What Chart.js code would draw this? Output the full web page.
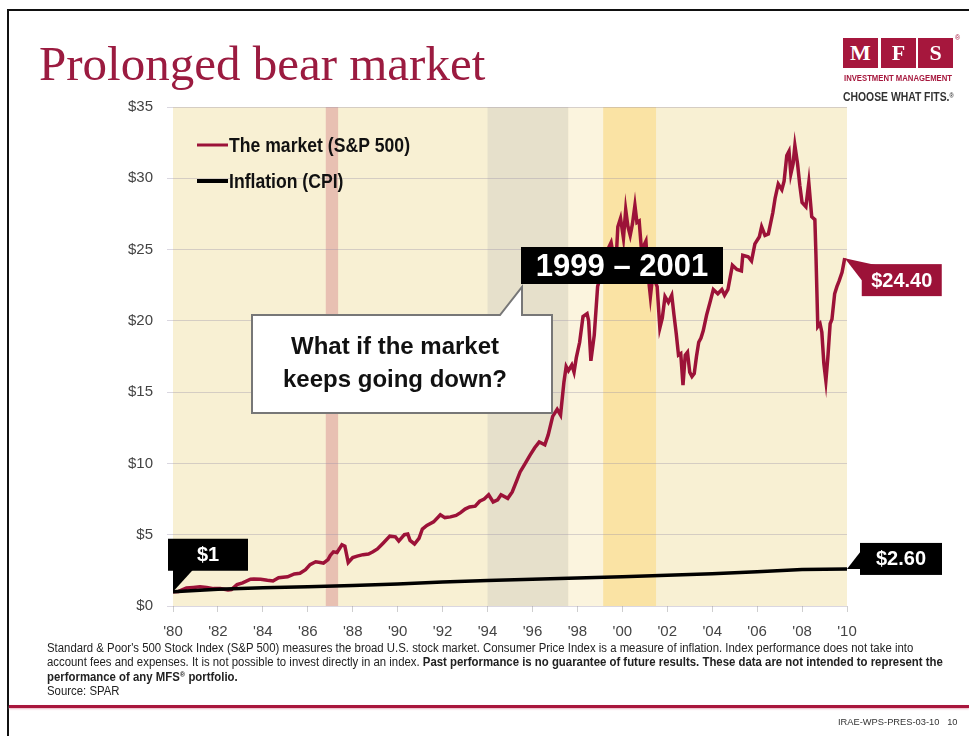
<!DOCTYPE html>
<html>
<head>
<meta charset="utf-8">
<script src="https://cdn.jsdelivr.net/npm/chart.js"></script>
<style>
body { margin: 0; background: #fff; }
#page { position: relative; width: 969px; height: 736px; overflow: hidden; font-family: "Liberation Sans", Arial, sans-serif; }
#chart { position: absolute; left: 0; top: 0; }
.frameTop { position: absolute; left: 7px; top: 9px; width: 962px; height: 2px; background: #111; }
.frameLeft { position: absolute; left: 7px; top: 9px; width: 2px; height: 727px; background: #111; }
.footLine { position: absolute; left: 9px; top: 705px; width: 960px; height: 3px; background: #a8163d; box-shadow: 0 1px 2px #eab0bd; }
#title { position: absolute; left: 39px; top: 39px; font-family: "Liberation Serif", serif; font-size: 49px; line-height: 1; color: #9b1b40; white-space: nowrap; }
.logoBox { position: absolute; top: 38px; width: 35px; height: 30px; background: #a6173d; color: #fff; font-family: "Liberation Serif", serif; font-weight: bold; font-size: 22px; line-height: 30px; text-align: center; }
#reg { position: absolute; left: 955px; top: 34px; font-size: 7px; color: #a6173d; }
.fit { position: absolute; white-space: nowrap; transform-origin: 0 0; }
sup { line-height: 0; vertical-align: 0.45em; }
#invest { left: 844px; top: 73px; font-size: 9px; font-weight: bold; color: #a6173d; }
#choose { left: 843px; top: 89px; font-size: 13px; font-weight: bold; color: #333; }
#foot { left: 47px; top: 641px; font-size: 12.5px; line-height: 14.3px; color: #222; }
#code { left: 838px; top: 717px; font-size: 9px; color: #333; }
</style>
</head>
<body>
<div id="page">
  <canvas id="chart" width="969" height="736"></canvas>
  <div class="frameTop"></div>
  <div class="frameLeft"></div>
  <div id="title">Prolonged bear market</div>
  <div class="logoBox" style="left:843px">M</div>
  <div class="logoBox" style="left:881px">F</div>
  <div class="logoBox" style="left:918px">S</div>
  <div id="reg">®</div>
  <div id="invest" class="fit" data-w="108">INVESTMENT MANAGEMENT</div>
  <div id="choose" class="fit" data-w="111">CHOOSE WHAT FITS.<sup style="font-size:7px">®</sup></div>
  <div id="foot" class="fit" data-w="866">
    <span id="footFirst">Standard &amp; Poor's 500 Stock Index (S&amp;P 500) measures the broad U.S. stock market. Consumer Price Index is a measure of inflation. Index performance does not take into</span><br>
    account fees and expenses. It is not possible to invest directly in an index. <b>Past performance is no guarantee of future results. These data are not intended to represent the</b><br>
    <b>performance of any MFS<sup style="font-size:8px">®</sup> portfolio.</b><br>
    Source: SPAR
  </div>
  <div class="footLine"></div>
  <div id="code" class="fit" data-w="120">IRAE-WPS-PRES-03-10&nbsp;&nbsp;&nbsp;10</div>
</div>
<script>
// growth of $1 invested in the S&P 500
marketYears = [1980.0, 1980.25, 1980.6, 1980.9, 1981.2, 1981.5, 1981.8, 1982.1, 1982.45, 1982.6, 1982.85,
  1983.1, 1983.45, 1983.6, 1983.9, 1984.2, 1984.45, 1984.7, 1985.1, 1985.4, 1985.65, 1985.9,
  1986.1, 1986.35, 1986.55, 1986.7, 1986.9, 1987.0, 1987.14, 1987.3, 1987.52, 1987.65, 1987.8,
  1988.0, 1988.2, 1988.46, 1988.7, 1988.9, 1989.1, 1989.35, 1989.65, 1989.9, 1990.05, 1990.3,
  1990.45, 1990.55, 1990.75, 1990.95, 1991.1, 1991.3, 1991.6, 1991.9, 1992.1, 1992.35, 1992.6,
  1992.8, 1993.0, 1993.2, 1993.45, 1993.65, 1993.85, 1994.05, 1994.25, 1994.45, 1994.6, 1994.9,
  1995.1, 1995.3, 1995.45, 1995.6, 1995.9, 1996.1, 1996.3, 1996.55, 1996.7, 1996.9, 1997.1,
  1997.25, 1997.4, 1997.5, 1997.6, 1997.75, 1997.85, 1997.95, 1998.1, 1998.25, 1998.43, 1998.5,
  1998.6, 1998.75, 1998.9, 1999.05, 1999.2, 1999.35, 1999.5, 1999.6, 1999.72, 1999.8, 1999.92,
  2000.05, 2000.15, 2000.25, 2000.35, 2000.45, 2000.56, 2000.65, 2000.75, 2000.85, 2000.93,
  2001.05, 2001.15, 2001.25, 2001.36, 2001.45, 2001.55, 2001.67, 2001.78, 2001.9, 2002.05,
  2002.2, 2002.3, 2002.4, 2002.5, 2002.6, 2002.7, 2002.8, 2002.9, 2003.0, 2003.1, 2003.2,
  2003.3, 2003.4, 2003.5, 2003.6, 2003.75, 2003.92, 2004.05, 2004.25, 2004.43, 2004.55, 2004.7,
  2004.9, 2005.1, 2005.3, 2005.36, 2005.6, 2005.75, 2005.9, 2006.1, 2006.2, 2006.35, 2006.5,
  2006.7, 2006.8, 2006.94, 2007.1, 2007.2, 2007.32, 2007.42, 2007.5, 2007.6, 2007.68, 2007.8,
  2007.9, 2008.0, 2008.17, 2008.3, 2008.43, 2008.57, 2008.62, 2008.7, 2008.8, 2008.88, 2008.97,
  2009.06, 2009.15, 2009.25, 2009.33, 2009.45, 2009.55, 2009.65, 2009.78, 2009.9]
market = [1.00, 1.02, 1.26, 1.30, 1.35, 1.30, 1.22, 1.22, 1.12, 1.15, 1.50,
  1.62, 1.88, 1.90, 1.88, 1.80, 1.75, 1.98, 2.05, 2.25, 2.30, 2.55,
  2.90, 3.10, 3.05, 3.00, 3.25, 3.55, 3.80, 3.75, 4.30, 4.20, 3.05,
  3.40, 3.50, 3.60, 3.65, 3.80, 4.00, 4.40, 4.90, 4.85, 4.55, 5.00,
  5.05, 4.60, 4.35, 4.75, 5.40, 5.65, 5.90, 6.40, 6.20, 6.25, 6.35,
  6.55, 6.80, 6.95, 7.00, 7.35, 7.50, 7.80, 7.30, 7.45, 7.80, 7.55,
  8.00, 8.80, 9.40, 9.80, 10.60, 11.10, 11.50, 11.30, 12.00, 13.30, 13.80,
  13.40, 15.70, 16.80, 16.50, 16.90, 16.40, 17.40, 18.50, 20.30, 20.50, 20.00,
  17.20, 19.00, 22.40, 23.30, 23.90, 25.00, 25.50, 24.60, 24.20, 26.60, 27.20,
  25.80, 27.80, 26.60, 26.00, 26.80, 28.10, 26.90, 27.00, 25.00, 25.20,
  25.60, 23.20, 21.70, 23.30, 22.80, 22.40, 19.50, 20.20, 21.70, 21.30,
  21.80, 20.40, 19.10, 17.60, 17.70, 15.50, 17.60, 17.80, 16.40, 16.10, 16.30,
  17.50, 18.50, 18.80, 19.30, 20.40, 21.40, 22.20, 21.90, 22.20, 21.80, 22.20,
  23.90, 23.60, 23.50, 24.60, 24.50, 24.20, 25.40, 25.90, 26.60, 26.00, 26.10,
  27.60, 28.60, 29.60, 29.20, 29.80, 31.60, 31.90, 30.30, 31.00, 32.30, 31.00,
  29.50, 28.30, 28.00, 29.70, 27.30, 27.10, 24.50, 19.60, 19.80, 19.20, 17.00,
  15.80, 17.50, 19.80, 20.10, 21.90, 22.40, 22.80, 23.40, 24.40]

// growth of $1 with inflation (CPI)
cpiYears = [1980, 1982, 1984, 1986, 1988, 1990, 1992, 1994, 1996, 1998, 2000, 2002, 2004, 2006, 2008, 2010]
cpi = [1.00, 1.18, 1.28, 1.35, 1.43, 1.55, 1.68, 1.78, 1.88, 1.97, 2.06, 2.16, 2.27, 2.40, 2.56, 2.60]

// shaded periods (years)
bandStart = [1986.8, 1994.0, 1997.6, 1999.15]
bandEnd = [1987.35, 1997.6, 1999.15, 2001.5]
bandColors = ['#e8c0b2', '#e6e0cb', '#fbf4de', '#fae3a4']

seriesNames = ['The market (S&P 500)', 'Inflation (CPI)']
periodLabel = '1999 \u2013 2001'
questionLines = ['What if the market', 'keeps going down?']

crimson = '#9c1238'
sans = '"Liberation Sans", Arial, sans-serif'

function money(v) {
  return '$' + (Number.isInteger(v) ? v : v.toFixed(2))
}

// squeeze html text to the width it has in the picture (no narrow font installed)
fitText = function() {
  document.querySelectorAll('.fit').forEach(function(el) {
    var w = el.id == 'foot' ? document.getElementById('footFirst').offsetWidth : el.offsetWidth
    el.style.transform = 'scaleX(' + (el.dataset.w / w) + ')'
  })
}

// paints the beige plot area and the shaded periods under the grid
backgroundPlugin = {
  id: 'bands',
  beforeDraw: function(chart) {
    var ctx = chart.ctx, a = chart.chartArea, xs = chart.scales.x
    ctx.save()
    ctx.fillStyle = '#f8f0d3'
    ctx.fillRect(a.left, a.top, a.right - a.left, a.bottom - a.top)
    bandStart.forEach(function(s, i) {
      var x1 = xs.getPixelForValue(s), x2 = xs.getPixelForValue(bandEnd[i])
      ctx.fillStyle = bandColors[i]
      ctx.fillRect(x1, a.top, x2 - x1, a.bottom - a.top)
    })
    ctx.restore()
  }
}

function tag(ctx, x, y, w, h, fill, text, size, pointer) {
  ctx.fillStyle = fill
  ctx.beginPath()
  ctx.moveTo(pointer[0][0], pointer[0][1])
  ctx.lineTo(pointer[1][0], pointer[1][1])
  ctx.lineTo(pointer[2][0], pointer[2][1])
  ctx.closePath()
  ctx.fill()
  ctx.fillRect(x, y, w, h)
  ctx.fillStyle = '#fff'
  ctx.font = 'bold ' + size + 'px ' + sans
  ctx.textAlign = 'center'
  ctx.textBaseline = 'middle'
  ctx.fillText(text, x + w / 2, y + h / 2 + 1)
}

// legend, value tags and the speech bubble
calloutPlugin = {
  id: 'callouts',
  afterDatasetsDraw: function(chart) {
    var ctx = chart.ctx, xs = chart.scales.x, ys = chart.scales.y
    ctx.save()

    // legend, text squeezed like a narrow face
    var lx = 197, ly = 145
    ctx.font = 'bold 20px ' + sans
    var squeeze = 181 / ctx.measureText(seriesNames[0]).width
    seriesNames.forEach(function(name, i) {
      var ds = chart.data.datasets[i]
      ctx.strokeStyle = ds.borderColor
      ctx.lineWidth = i == 0 ? 3 : 4
      ctx.beginPath()
      ctx.moveTo(lx, ly + i * 36)
      ctx.lineTo(lx + 31, ly + i * 36)
      ctx.stroke()
      ctx.save()
      ctx.translate(lx + 32, ly + i * 36 + 1)
      ctx.scale(squeeze, 1)
      ctx.fillStyle = '#111'
      ctx.textAlign = 'left'
      ctx.textBaseline = 'middle'
      ctx.fillText(name, 0, 0)
      ctx.restore()
    })

    // $1 at the start
    var p = { x: xs.getPixelForValue(marketYears[0]), y: ys.getPixelForValue(market[0]) }
    tag(ctx, p.x - 5, p.y - 53, 80, 32, '#000', money(market[0]), 20,
      [[p.x, p.y - 22], [p.x + 20, p.y - 22], [p.x, p.y]])

    // end of the market line
    var n = market.length - 1
    p = { x: xs.getPixelForValue(marketYears[n]), y: ys.getPixelForValue(market[n]) }
    tag(ctx, p.x + 17, p.y + 6, 80, 32, crimson, money(market[n]), 20,
      [[p.x, p.y], [p.x + 32, p.y + 7], [p.x + 17, p.y + 22]])

    // end of the inflation line
    var m = cpi.length - 1
    p = { x: xs.getPixelForValue(cpiYears[m]), y: ys.getPixelForValue(cpi[m]) }
    tag(ctx, p.x + 13, p.y - 26, 82, 32, '#000', money(cpi[m]), 20,
      [[p.x, p.y], [p.x + 14, p.y - 18], [p.x + 14, p.y]])

    // 1999 - 2001 box
    ctx.fillStyle = '#000'
    ctx.fillRect(521, 247, 202, 37)
    ctx.fillStyle = '#fff'
    ctx.font = 'bold 31px ' + sans
    ctx.textAlign = 'center'
    ctx.textBaseline = 'middle'
    ctx.fillText(periodLabel, 622, 267)

    // speech bubble
    ctx.beginPath()
    ctx.moveTo(252, 315)
    ctx.lineTo(500, 315)
    ctx.lineTo(522, 287)
    ctx.lineTo(522, 315)
    ctx.lineTo(552, 315)
    ctx.lineTo(552, 413)
    ctx.lineTo(252, 413)
    ctx.closePath()
    ctx.fillStyle = '#fff'
    ctx.fill()
    ctx.strokeStyle = '#777'
    ctx.lineWidth = 2
    ctx.stroke()
    ctx.fillStyle = '#111'
    ctx.font = 'bold 24px ' + sans
    ctx.fillText(questionLines[0], 395, 347)
    ctx.fillText(questionLines[1], 395, 380)

    ctx.restore()
  }
}

window.onload = function() {
  fitText()
  ctx = document.getElementById('chart')
  config = {
    type: 'line',
    data: {
      datasets: [{
        label: seriesNames[0],
        data: marketYears.map(function(x, i) { return { x: x, y: market[i] } }),
        borderColor: crimson,
        borderWidth: 3.5,
        pointRadius: 0,
        fill: false,
        order: 1
      }, {
        label: seriesNames[1],
        data: cpiYears.map(function(x, i) { return { x: x, y: cpi[i] } }),
        borderColor: '#000',
        borderWidth: 3.5,
        pointRadius: 0,
        fill: false,
        order: 0
      }]
    },
    options: {
      responsive: false,
      animation: false,
      devicePixelRatio: 1,
      layout: { padding: { top: 107, right: 122, bottom: 0, left: 0 } },
      plugins: { legend: { display: false }, tooltip: { enabled: false } },
      scales: {
        x: {
          type: 'linear', min: 1980, max: 2010,
          afterFit: function(s) { s.height = 130 },
          border: { display: false },
          grid: { drawOnChartArea: false, tickLength: 6, color: '#cfcfcf' },
          ticks: {
            stepSize: 2, padding: 11, color: '#444', maxRotation: 0,
            font: { family: sans, size: 15 },
            callback: function(v) { return "'" + String(v).slice(2) }
          }
        },
        y: {
          min: 0, max: 35,
          afterFit: function(s) { s.width = 173 },
          border: { display: false },
          grid: { color: 'rgba(150,140,165,0.35)', tickLength: 6 },
          ticks: {
            stepSize: 5, padding: 14, color: '#444',
            font: { family: sans, size: 15 },
            callback: function(v) { return '$' + v }
          }
        }
      }
    },
    plugins: [backgroundPlugin, calloutPlugin]
  }
  createNewChart = new Chart(ctx, config)
}
</script>
</body>
</html>
